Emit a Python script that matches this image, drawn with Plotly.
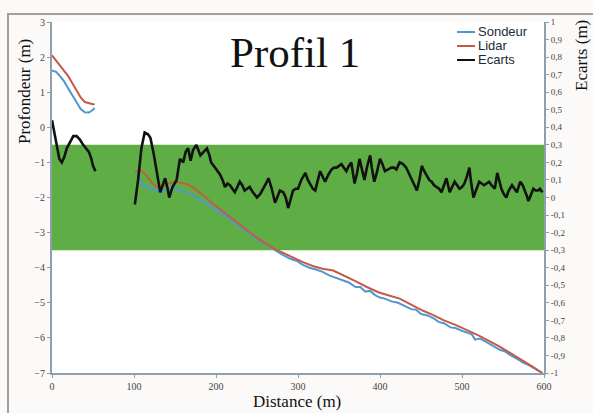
import plotly.graph_objects as go

# ---------------- data ----------------
# Depth profiles (left axis, m) - two segments separated by a gap (None)
dist_depth = [0, 5, 10, 15, 20, 25, 30, 35, 40, 45, 50, 52, None,
              103, 108, 112, 118, 124, 130, 136, 142, 148, 154, 160, 166, 172, 178, 184, 190, 196, 202,
              210, 218, 226, 234, 242, 250, 258, 266, 274, 282, 290, 298, 306, 314, 322, 330, 338, 346,
              354, 362, 370, 376, 382, 388, 394, 400, 406, 414, 422, 430, 438, 444, 450, 458, 466, 472,
              478, 486, 492, 500, 506, 512, 516, 522, 530, 538, 546, 552, 558, 566, 574, 582, 590, 598]
sondeur = [1.62, 1.58, 1.45, 1.30, 1.10, 0.90, 0.70, 0.52, 0.43, 0.42, 0.50, 0.55, None,
           -1.27, -1.55, -1.66, -1.72, -1.78, -1.83, -1.82, -1.76, -1.72, -1.78, -1.84, -1.86, -1.95, -2.02,
           -2.10, -2.20, -2.28, -2.38, -2.50, -2.64, -2.78, -2.92, -3.05, -3.18, -3.30, -3.42, -3.53, -3.64,
           -3.74, -3.80, -3.92, -4.00, -4.05, -4.12, -4.22, -4.28, -4.36, -4.42, -4.55, -4.55, -4.68, -4.66,
           -4.78, -4.85, -4.88, -4.96, -5.00, -5.08, -5.18, -5.20, -5.32, -5.36, -5.45, -5.55, -5.58, -5.70,
           -5.72, -5.80, -5.86, -5.90, -6.05, -6.02, -6.12, -6.22, -6.34, -6.38, -6.48, -6.58, -6.70, -6.78,
           -6.88, -7.00]

dist_lidar = [0, 5, 10, 15, 20, 25, 30, 35, 40, 45, 50, 52, None,
              101, 110, 116, 122, 128, 134, 140, 146, 152, 158, 165, 172, 178, 184, 192, 200, 210, 220,
              230, 240, 250, 260, 270, 282, 294, 306, 318, 330, 343, 356, 370, 384, 398, 412, 424, 438,
              452, 465, 478, 492, 506, 520, 534, 546, 560, 574, 586, 598]
lidar = [2.05, 1.90, 1.75, 1.60, 1.45, 1.25, 1.05, 0.85, 0.72, 0.68, 0.66, 0.66, None,
         -1.25, -1.25, -1.40, -1.58, -1.70, -1.70, -1.62, -1.57, -1.56, -1.58, -1.62, -1.72, -1.82, -1.93,
         -2.10, -2.25, -2.42, -2.60, -2.79, -2.97, -3.15, -3.30, -3.45, -3.58, -3.72, -3.84, -3.95, -4.03,
         -4.08, -4.22, -4.38, -4.55, -4.70, -4.80, -4.88, -5.05, -5.22, -5.35, -5.50, -5.63, -5.77, -5.93,
         -6.10, -6.25, -6.45, -6.64, -6.82, -7.00]

# Differences (right axis, m)
dist_ecarts = [0, 3, 6, 9, 12, 15, 18, 22, 26, 30, 34, 38, 42, 45, 48, 50, 53, None,
               101, 105, 109, 113, 117, 120, 124, 128, 132, 135, 138, 141, 143, 147, 152, 156, 160, 163,
               166, 169, 172, 176, 179, 181, 185, 189, 192, 194, 199, 202, 205, 208, 211, 214, 217, 220,
               223, 226, 229, 232, 235, 238, 241, 245, 250, 254, 258, 261, 264, 268, 272, 275, 278, 282,
               285, 288, 291, 294, 297, 300, 304, 309, 312, 315, 318, 321, 324, 327, 330, 333, 337, 341,
               344, 347, 350, 353, 356, 359, 362, 365, 367, 369, 372, 375, 378, 381, 384, 388, 390, 393,
               396, 400, 403, 406, 410, 414, 417, 420, 422, 424, 428, 432, 435, 439, 442, 445, 448, 451,
               454, 457, 460, 463, 466, 469, 472, 475, 478, 481, 483, 485, 488, 491, 494, 497, 500, 503,
               506, 509, 511, 514, 517, 521, 524, 527, 530, 533, 536, 540, 543, 546, 548, 551, 554, 557,
               561, 564, 567, 569, 571, 574, 577, 579, 581, 584, 587, 590, 593, 595, 598]
ecarts = [0.44, 0.36, 0.28, 0.22, 0.20, 0.23, 0.28, 0.32, 0.35, 0.35, 0.33, 0.30, 0.28, 0.26, 0.22, 0.18, 0.15, None,
          -0.04, 0.10, 0.28, 0.37, 0.36, 0.34, 0.25, 0.14, 0.03, 0.07, 0.11, 0.05, 0.00, 0.06, 0.10, 0.22,
          0.20, 0.26, 0.28, 0.21, 0.27, 0.30, 0.27, 0.24, 0.26, 0.28, 0.24, 0.20, 0.17, 0.15, 0.13, 0.10,
          0.06, 0.08, 0.07, 0.05, 0.03, 0.06, 0.09, 0.07, 0.04, 0.05, 0.06, 0.03, 0.00, 0.02, 0.05, 0.08,
          0.11, 0.05, -0.03, 0.00, 0.04, 0.03, 0.00, -0.06, -0.01, 0.04, 0.05, 0.05, 0.10, 0.14, 0.10, 0.07,
          0.05, 0.04, 0.09, 0.15, 0.12, 0.09, 0.13, 0.16, 0.17, 0.17, 0.18, 0.19, 0.17, 0.15, 0.18, 0.20,
          0.14, 0.08, 0.14, 0.22, 0.16, 0.10, 0.17, 0.24, 0.17, 0.09, 0.14, 0.22, 0.19, 0.15, 0.16, 0.17,
          0.17, 0.16, 0.18, 0.20, 0.19, 0.17, 0.14, 0.10, 0.07, 0.04, 0.10, 0.18, 0.15, 0.12, 0.10, 0.09,
          0.07, 0.06, 0.05, 0.03, 0.07, 0.11, 0.07, 0.03, 0.06, 0.09, 0.07, 0.05, 0.06, 0.08, 0.12, 0.17,
          0.09, 0.00, 0.04, 0.09, 0.08, 0.07, 0.08, 0.09, 0.07, 0.05, 0.14, 0.09, 0.05, 0.02, 0.00, 0.04,
          0.07, 0.05, 0.03, 0.06, 0.09, 0.07, 0.04, 0.01, -0.02, 0.01, 0.05, 0.04, 0.04, 0.05, 0.03]

tolerance = [-0.3, 0.3]          # green band on the Ecarts axis
x_ticks = [0, 100, 200, 300, 400, 500, 600]
y_ticks = [-7, -6, -5, -4, -3, -2, -1, 0, 1, 2, 3]
y2_ticks = [round(-1 + 0.1 * i, 1) for i in range(21)]
y2_labels = [("%g" % v).replace(".", ",") for v in y2_ticks]
series_names = ["Sondeur", "Lidar", "Ecarts"]
series_colors = ["#4f98cf", "#c65a45", "#111111"]

# ---------------- figure ----------------
fig = go.Figure()
fig.add_trace(go.Scatter(x=dist_depth, y=sondeur, mode="lines", name=series_names[0],
                         line=dict(color=series_colors[0], width=2), connectgaps=False))
fig.add_trace(go.Scatter(x=dist_lidar, y=lidar, mode="lines", name=series_names[1],
                         line=dict(color=series_colors[1], width=2), connectgaps=False))
fig.add_trace(go.Scatter(x=dist_ecarts, y=ecarts, mode="lines", name=series_names[2], yaxis="y2",
                         line=dict(color=series_colors[2], width=2.6), connectgaps=False))

serif = "Liberation Serif"
axis_col = "#8e9fae"
tick_font = dict(family=serif, size=10, color="#444444")

W, H = 593, 413
L, R, T, B = 52, 49, 22, 40
pw, ph = W - L - R, H - T - B


def px(xp):
    return (xp - L) / pw


def py(yp):
    return (H - B - yp) / ph


shapes = [
    # outer frame (drawn first, below everything)
    dict(type="rect", xref="paper", yref="paper", x0=px(8), x1=px(610), y0=py(14), y1=py(430),
         line=dict(color="#a0a0a0", width=2), fillcolor="rgba(0,0,0,0)", layer="below"),
    dict(type="rect", xref="paper", yref="y2", x0=0, x1=1, y0=tolerance[0], y1=tolerance[1],
         fillcolor="#5fae45", line=dict(width=0), layer="below"),
]

title_font = dict(family=serif, size=17, color="#111111")
annotations = [
    dict(text="Profil 1", xref="paper", yref="paper", x=px(295), y=py(52), showarrow=False,
         font=dict(family=serif, size=43, color="#111111"), xanchor="center", yanchor="middle"),
    dict(text="Ecarts (m)", xref="paper", yref="paper", x=px(582), y=py(56), showarrow=False,
         textangle=-90, xanchor="center", yanchor="middle", font=title_font),
    dict(text="Profondeur (m)", xref="paper", yref="paper", x=px(24), y=py(92), showarrow=False,
         textangle=-90, xanchor="center", yanchor="middle", font=title_font),
    dict(text="Distance (m)", xref="paper", yref="paper", x=px(297), y=py(401), showarrow=False,
         xanchor="center", yanchor="middle", font=title_font),
]

# manual legend
leg_y = [31, 45, 59]
for name, col, yy in zip(series_names, series_colors, leg_y):
    shapes.append(dict(type="line", xref="paper", yref="paper", x0=px(457), x1=px(475),
                       y0=py(yy + 1), y1=py(yy + 1), line=dict(color=col, width=2)))
    annotations.append(dict(text=name, xref="paper", yref="paper", x=px(476), y=py(yy),
                            showarrow=False, xanchor="left", yanchor="middle",
                            font=dict(family="Liberation Sans", size=13,
                                      color="#1a2a3a")))

fig.update_layout(
    width=W, height=H,
    margin=dict(l=L, r=R, t=T, b=B, autoexpand=False),
    paper_bgcolor="#fcfaf9",
    plot_bgcolor="white",
    showlegend=False,
    shapes=shapes,
    annotations=annotations,
    xaxis=dict(range=[0, 600], tickvals=x_ticks, showgrid=False, zeroline=False, automargin=False,
               showline=True, linecolor=axis_col, linewidth=2, ticks="outside", ticklen=3,
               tickcolor=axis_col, tickfont=tick_font),
    yaxis=dict(range=[-7, 3], tickvals=y_ticks, showgrid=False, zeroline=False, automargin=False,
               showline=True, linecolor=axis_col, linewidth=2, ticks="outside", ticklen=3,
               tickcolor=axis_col, tickfont=tick_font),
    yaxis2=dict(range=[-1, 1], tickvals=y2_ticks, ticktext=y2_labels, overlaying="y", side="right",
                showgrid=False, zeroline=False, showline=True, linecolor=axis_col, linewidth=2,
                automargin=False, ticks="outside", ticklen=3, tickcolor=axis_col,
                tickfont=dict(family=serif, size=9, color="#444444")),
)

fig.write_html("out.html", config={"displayModeBar": False},
               post_script="document.body.style.margin='0';document.body.style.overflow='hidden';")
